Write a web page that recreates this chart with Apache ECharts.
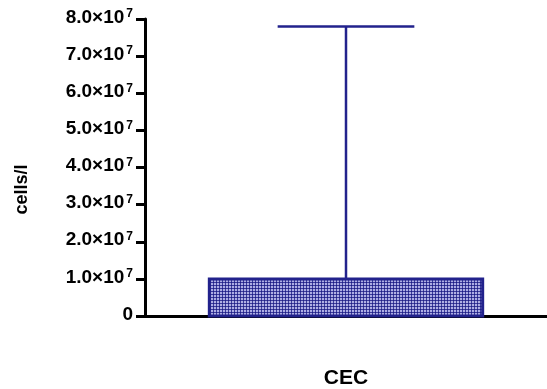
<!DOCTYPE html>
<html>
<head>
<meta charset="utf-8">
<script src="https://cdn.jsdelivr.net/npm/echarts@6/dist/echarts.min.js"></script>
<style>
html,body{margin:0;padding:0;background:#fff;}
#c{width:547px;height:389px;}
</style>
</head>
<body>
<div id="c"></div>
<script>
// Data
const categories = ['CEC'];
const boxLow = [0];          // lower edge of box
const boxHigh = [1.0e7];     // upper edge of box
const whiskerHigh = [7.8e7]; // whisker top
const yTicks = [0, 1e7, 2e7, 3e7, 4e7, 5e7, 6e7, 7e7, 8e7];

const NAVY = '#22228c';

// stipple pattern
const pc = document.createElement('canvas');
pc.width = 3; pc.height = 3;
const g = pc.getContext('2d');
g.fillStyle = '#aeaee4'; g.fillRect(0, 0, 3, 3);
g.fillStyle = '#3c3c9c'; g.fillRect(0, 0, 3, 1); g.fillRect(0, 0, 1, 3);
g.fillStyle = '#1e1e84'; g.fillRect(0, 0, 1, 1);

const data = categories.map((c, i) => [i, boxLow[i], boxHigh[i], whiskerHigh[i]]);

const chart = echarts.init(document.getElementById('c'), null, {renderer: 'canvas'});
chart.setOption({
  animation: false,
  backgroundColor: '#fff',
  grid: {left: 145, right: 0, top: 19, bottom: 73, containLabel: false},
  xAxis: {
    type: 'category',
    data: categories,
    boundaryGap: true,
    axisLine: {lineStyle: {color: '#000', width: 3}},
    axisTick: {alignWithLabel: true, length: 10, lineStyle: {color: '#000', width: 3}},
    axisLabel: {margin: 52, color: '#000', fontSize: 21, fontWeight: 'bold', fontFamily: 'Liberation Sans'}
  },
  yAxis: {
    type: 'value',
    min: yTicks[0],
    max: yTicks[yTicks.length - 1],
    interval: yTicks[1] - yTicks[0],
    splitLine: {show: false},
    axisLine: {show: true, lineStyle: {color: '#000', width: 3}},
    axisTick: {show: true, length: 9, lineStyle: {color: '#000', width: 3}},
    axisLabel: {
      margin: 12,
      color: '#000',
      fontFamily: 'Liberation Sans',
      fontWeight: 'bold',
      fontSize: 19,
      formatter: v => v === 0 ? '{a|0}' : '{a|' + (v / 1e7).toFixed(1) + '×10}{b|7}',
      rich: {
        a: {fontSize: 19, fontWeight: 'bold', fontFamily: 'Liberation Sans', color: '#000', lineHeight: 22, padding: [0, 0, 3, 0]},
        b: {fontSize: 12, fontWeight: 'bold', fontFamily: 'Liberation Sans', color: '#000', verticalAlign: 'top', lineHeight: 22, padding: [0, 0, 0, 2]}
      }
    },
    name: 'cells/l',
    nameLocation: 'middle',
    nameRotate: 90,
    nameGap: 114,
    nameTextStyle: {color: '#000', fontSize: 18, fontWeight: 'bold', fontFamily: 'Liberation Sans', padding: [0, 44, 0, 0]}
  },
  series: [{
    type: 'custom',
    data: data,
    encode: {x: 0, y: [1, 2, 3]},
    renderItem: (params, api) => {
      const x = api.value(0);
      const pLo = api.coord([x, api.value(1)]);
      const pQ3 = api.coord([x, api.value(2)]);
      const pHi = api.coord([x, api.value(3)]);
      const band = api.size([1, 0])[0];
      const bw = band * 0.68;
      const cw = band * 0.34;
      return {
        type: 'group',
        children: [
          {type: 'line', shape: {x1: pQ3[0], y1: pQ3[1], x2: pHi[0], y2: pHi[1]}, style: {stroke: NAVY, lineWidth: 2.5}},
          {type: 'line', shape: {x1: pHi[0] - cw / 2, y1: pHi[1], x2: pHi[0] + cw / 2, y2: pHi[1]}, style: {stroke: NAVY, lineWidth: 2.5}},
          {type: 'rect', shape: {x: pQ3[0] - bw / 2, y: pQ3[1], width: bw, height: pLo[1] - pQ3[1]},
           style: {fill: {image: pc, repeat: 'repeat'}, stroke: NAVY, lineWidth: 3}}
        ]
      };
    }
  }]
});
</script>
</body>
</html>
